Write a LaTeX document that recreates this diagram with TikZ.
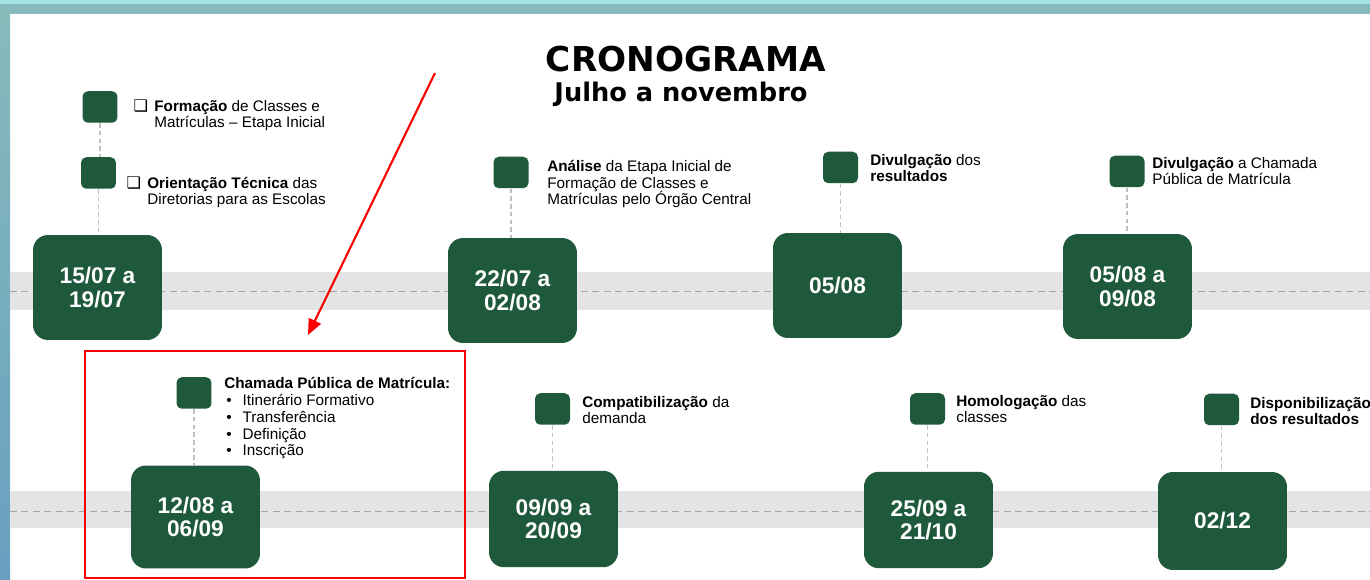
\documentclass[tikz,border=0pt]{standalone}
\usepackage{fontspec}
\setmainfont{Liberation Sans}
\newfontfamily\titlefont{DejaVu Sans}
\newfontfamily\chkfont{DejaVu Sans}
\usetikzlibrary{arrows.meta,positioning}

\definecolor{cgreen}{RGB}{31,89,60}
\definecolor{bandgray}{RGB}{228,228,228}
\definecolor{midgray}{RGB}{165,165,165}
\definecolor{stemgray}{RGB}{192,192,192}
\definecolor{framelight}{RGB}{165,224,228}
\definecolor{framedark}{RGB}{134,186,187}
\definecolor{cred}{RGB}{250,0,0}

\newcommand{\lblsize}{\fontsize{8.7}{9.65}\selectfont}
\newcommand{\chk}{\llap{{\chkfont\fontsize{9.2}{9}\selectfont ❑}\hspace{3.6pt}}}
\newcommand{\itm}{\makebox[10.4pt][l]{\hspace{1.2pt}•}}

\tikzset{
    datebox/.style={fill=cgreen, rounded corners=8.5pt, minimum width=2.58cm,
        minimum height=2.1cm, inner sep=0pt, text=white, align=center,
        font=\fontsize{12.9}{13.6}\selectfont\bfseries},
    marker/.style={fill=cgreen, rounded corners=3pt, minimum width=0.7cm,
        minimum height=0.63cm, inner sep=0pt},
    % base of a multi-line label is its last line
    lbl/.style={anchor=base west, align=left, inner sep=0pt, font=\lblsize},
    stem/.style={draw=stemgray, line width=0.7pt, dash pattern=on 2.6pt off 1.8pt},
    midline/.style={draw=midgray, line width=0.5pt, dash pattern=on 4pt off 2.5pt},
    redline/.style={draw=cred, line width=1.2pt}
}

\begin{document}
\begin{tikzpicture}[x=0.02cm,y=-0.02cm]
    \useasboundingbox (0,0) rectangle (1370,580);
    % frame
    \fill[white] (0,0) rectangle (1370,580);
    \fill[framedark] (0,0) rectangle (1370,14);
    \fill[framelight] (0,0) rectangle (1370,4);
    \shade[top color=framedark, bottom color={rgb,255:red,105;green,160;blue,192}] (0,14) rectangle (10,580);

    % bands
    \fill[bandgray] (10,272) rectangle (1370,310);
    \fill[bandgray] (10,491) rectangle (1370,528);
    \draw[midline] (10,291) -- (1370,291);
    \draw[midline] (10,511) -- (1370,511);

    % title
    \node[anchor=base, inner sep=0pt, font=\titlefont\fontsize{19.5}{20}\selectfont\bfseries] (ttl) at (686,72) {CRONOGRAMA};
    \node[anchor=base, inner sep=0pt, font=\titlefont\fontsize{14.6}{16}\selectfont\bfseries] (sub) at (681,102) {Julho a novembro};

    % dates, first row
    \node[datebox] (d1) at (97.5,287.5) {15/07 a\\19/07};
    \node[datebox] (d2) at (512.5,290.5) {22/07 a\\02/08};
    \node[datebox] (d3) at (837.5,285.5) {05/08};
    \node[datebox] (d4) at (1127.5,286.5) {05/08 a\\09/08};
    % dates, second row
    \node[datebox, minimum height=2.06cm] (d5) at (195.5,517) {12/08 a\\06/09};
    \node[datebox, minimum height=1.93cm] (d6) at (553.5,519) {09/09 a\\20/09};
    \node[datebox, minimum height=1.93cm] (d7) at (928.5,520) {25/09 a\\21/10};
    \node[datebox, minimum height=1.96cm] (d8) at (1222.5,521) {02/12};

    % markers
    \node[marker] (m1) at (100,107) {};
    \node[marker] (m2) at (98.5,173) {};
    \node[marker] (m3) at (511,172.5) {};
    \node[marker] (m4) at (840.5,167.5) {};
    \node[marker] (m5) at (1127,171.5) {};
    \node[marker] (m6) at (194,393) {};
    \node[marker] (m7) at (552.5,409) {};
    \node[marker] (m8) at (927.5,409) {};
    \node[marker] (m9) at (1221.5,409.5) {};

    \draw[stem] (m1.south) -- (m1.south |- m2.north);
    \draw[stem] (m2.south) -- (m2.south |- d1.north);
    \draw[stem] (m3.south) -- (m3.south |- d2.north);
    \draw[stem] (m4.south) -- (m4.south |- d3.north);
    \draw[stem] (m5.south) -- (m5.south |- d4.north);
    \draw[stem] (m6.south) -- (m6.south |- d5.north);
    \draw[stem] (m7.south) -- (m7.south |- d6.north);
    \draw[stem] (m8.south) -- (m8.south |- d7.north);
    \draw[stem] (m9.south) -- (m9.south |- d8.north);

    % labels
    \node[lbl] (l1) at (154,128) {\chk\textbf{Formação} de Classes e\\Matrículas – Etapa Inicial};
    \node[lbl] (l2) at (147,205) {\chk\textbf{Orientação Técnica} das\\Diretorias para as Escolas};
    \node[lbl] (l3) at (547,205) {\textbf{Análise} da Etapa Inicial de\\Formação de Classes e\\Matrículas pelo Órgão Central};
    \node[lbl] (l4) at (870,182) {\textbf{Divulgação} dos\\\textbf{resultados}};
    \node[lbl] (l5) at (1152,185) {\textbf{Divulgação} a Chamada\\Pública de Matrícula};
    \node[lbl] (l6) at (224,456) {\textbf{Chamada Pública de Matrícula:}\\\itm Itinerário Formativo\\\itm Transferência\\\itm Definição\\\itm Inscrição};
    \node[lbl] (l7) at (582,424) {\textbf{Compatibilização} da\\demanda};
    \node[lbl] (l8) at (956,423) {\textbf{Homologação} das\\classes};
    \node[lbl] (l9) at (1250,425) {\textbf{Disponibilização}\\\textbf{dos resultados}};

    % highlight
    \draw[redline] (85,351) rectangle (465,578);
    \coordinate (arrS) at (435,73);
    \coordinate (arrE) at (308,335);
    \draw[redline, -{Triangle[length=9pt,width=7.5pt]}] (arrS) -- (arrE);
\end{tikzpicture}
\end{document}
